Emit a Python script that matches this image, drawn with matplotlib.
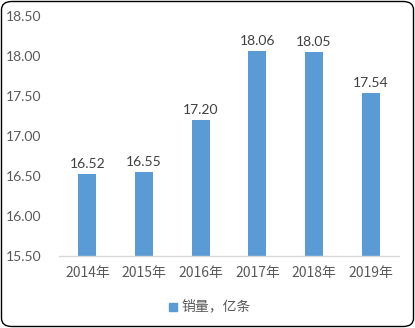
import matplotlib
matplotlib.use("Agg")
import matplotlib.pyplot as plt
from matplotlib.patches import FancyBboxPatch, Rectangle

categories = ["2014年", "2015年", "2016年", "2017年", "2018年", "2019年"]
values = [16.52, 16.55, 17.20, 18.06, 18.05, 17.54]
yticks = [15.50, 16.00, 16.50, 17.00, 17.50, 18.00, 18.50]
series_name = "销量，亿条"

plt.rcParams['font.family'] = ['Lato', 'Noto Sans CJK SC', 'DejaVu Sans']
txt = '#595959'
bar_color = '#5B9BD5'

W, H = 415, 328
fig = plt.figure(figsize=(W / 100, H / 100), dpi=100)
ax = fig.add_axes([59 / W, (H - 256) / H, (399 - 59) / W, (256 - 16) / H])

x = range(len(categories))
bars = ax.bar(x, values, width=0.32, color=bar_color, zorder=2)
ax.set_ylim(15.5, 18.5)
ax.set_xlim(-0.5, len(categories) - 0.5)
ax.set_yticks(yticks)
ax.set_yticklabels([f"{v:.2f}" for v in yticks], color=txt, fontsize=10)
ax.set_xticks(list(x))
ax.set_xticklabels(categories, color=txt, fontsize=10,
                   family=['Noto Sans CJK SC', 'DejaVu Sans'])
ax.tick_params(axis='both', length=0)
ax.tick_params(axis='y', pad=12.5)
ax.tick_params(axis='x', pad=7)
for s in ['top', 'right', 'left']:
    ax.spines[s].set_visible(False)
ax.spines['bottom'].set_color('#D9D9D9')
ax.spines['bottom'].set_linewidth(1)

for xi, v in zip(x, values):
    ax.annotate(f"{v:.2f}", (xi, v), xytext=(0, 3), textcoords='offset points',
                ha='center', va='bottom', fontsize=10, color='#404040')

# legend
fig.patches.append(Rectangle((169 / W, (H - 311) / H), 8 / W, 8 / H,
                             transform=fig.transFigure, color=bar_color))
fig.text(181 / W, (H - 306) / H, series_name, color=txt, fontsize=10,
         va='center', ha='left', family=['Noto Sans CJK SC', 'DejaVu Sans'])

# border
fig.patches.append(FancyBboxPatch((1.5 / W, 1.5 / H), (W - 3) / W, (H - 3) / H,
                                  boxstyle="round,pad=0,rounding_size=0.025",
                                  transform=fig.transFigure, fill=False,
                                  edgecolor='black', linewidth=1))

fig.savefig("out.png", dpi=100)
